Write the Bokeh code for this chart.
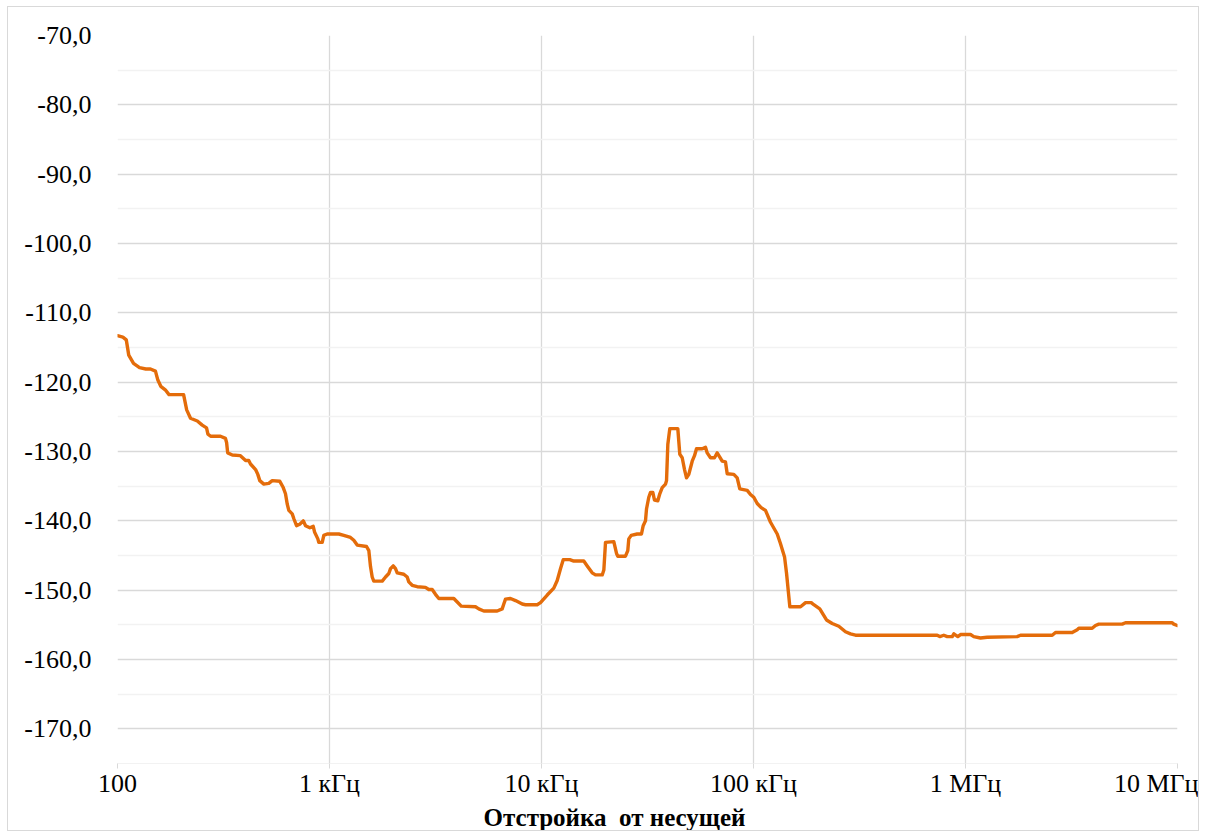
from bokeh.plotting import figure
from bokeh.models import FixedTicker, ColumnDataSource, Title
from bokeh.embed import file_html
from bokeh.resources import INLINE

# Frequency offset from carrier, Hz
freq_hz = [
    100, 106, 110, 113, 119, 127, 136, 143, 151, 155, 160, 168, 175, 205, 212, 221, 238, 251, 263, 267,
    275, 306, 323, 327, 331, 348, 380, 402, 416, 424, 448, 459, 469, 490, 517, 537, 583, 605, 620, 632,
    643, 667, 679, 699, 724, 752, 771, 808, 838, 850, 881, 890, 924, 940, 975, 1106, 1168, 1256, 1302, 1351,
    1495, 1533, 1561, 1590, 1618, 1773, 1838, 1905, 1940, 1998, 2048, 2086, 2241, 2325, 2366, 2455, 2593, 2836, 2940, 3051,
    3162, 3278, 3858, 4004, 4181, 4883, 5060, 5343, 6180, 6525, 6640, 6764, 7141, 7540, 8110, 8405, 9543, 9892, 10640, 11430,
    11860, 12290, 12660, 13600, 14200, 15830, 16430, 17340, 17970, 19340, 19680, 20040, 21930, 22590, 22910, 24900, 25530, 25810, 26490, 28270,
    29620, 30180, 30940, 31280, 32070, 32680, 33500, 34120, 35370, 36140, 37100, 38460, 38880, 39430, 40290, 43950, 44920, 46100, 47270, 48310,
    49530, 51390, 52690, 53840, 57280, 59370, 60480, 62690, 65460, 67420, 69340, 71180, 73770, 75150, 80740, 83760, 86170, 93390, 96790, 100300,
    104100, 108700, 113900, 120300, 129400, 134100, 140100, 143200, 148400, 166700, 176000, 187200, 192500, 205400, 221000, 235100, 252600, 271600, 286800, 302800,
    735400, 756500, 790000, 819900, 865900, 881000, 919800, 947100, 1056000, 1094000, 1177000, 1266000, 1753000, 1817000, 2565000, 2658000, 3187000, 3365000, 3422000, 3959000,
    4104000, 4254000, 5486000, 5685000, 9441000, 9605000, 9968000,
]

# Phase noise level, dBc/Hz
level_db = [
    -113.3, -113.5, -113.9, -116.1, -117.3, -117.9, -118.1, -118.1, -118.4, -119.7, -120.6, -121.1, -121.8, -121.8, -124.0, -125.2, -125.6, -126.2, -126.6, -127.5,
    -127.8, -127.8, -128.1, -128.7, -130.2, -130.5, -130.6, -131.3, -131.3, -131.8, -132.6, -133.3, -134.2, -134.7, -134.6, -134.2, -134.3, -135.2, -136.1, -137.6,
    -138.5, -139.0, -139.7, -140.7, -140.5, -140.0, -140.7, -141.0, -140.8, -141.6, -142.6, -143.1, -143.1, -142.1, -141.9, -141.9, -142.1, -142.4, -142.8, -143.5,
    -143.7, -144.3, -146.6, -148.1, -148.7, -148.7, -148.1, -147.6, -146.9, -146.5, -146.9, -147.5, -147.7, -148.1, -148.8, -149.3, -149.5, -149.6, -149.9, -149.9,
    -150.6, -151.2, -151.2, -151.7, -152.3, -152.4, -152.7, -153.0, -153.0, -152.7, -152.0, -151.3, -151.2, -151.5, -152.0, -152.1, -152.1, -151.8, -150.7, -149.7,
    -148.6, -146.9, -145.6, -145.6, -145.8, -145.8, -146.5, -147.5, -147.8, -147.8, -147.1, -143.1, -143.0, -144.7, -145.1, -145.1, -144.3, -142.6, -142.1, -141.9,
    -141.9, -140.7, -140.0, -138.3, -136.6, -135.9, -135.9, -137.0, -137.1, -136.1, -135.2, -134.7, -134.2, -129.0, -126.7, -126.7, -130.4, -130.9, -132.6, -133.8,
    -133.3, -131.4, -130.6, -129.6, -129.6, -129.4, -130.2, -130.9, -130.9, -130.2, -130.8, -131.4, -131.5, -133.2, -133.3, -133.8, -135.4, -135.6, -136.2, -136.6,
    -137.5, -138.1, -138.5, -140.2, -141.9, -143.3, -145.2, -147.6, -152.4, -152.4, -151.8, -151.8, -152.1, -152.7, -154.3, -154.8, -155.2, -156.0, -156.3, -156.5,
    -156.5, -156.7, -156.5, -156.7, -156.7, -156.3, -156.7, -156.4, -156.4, -156.7, -156.9, -156.8, -156.7, -156.5, -156.5, -156.1, -156.1, -155.7, -155.5, -155.5,
    -155.1, -154.9, -154.9, -154.7, -154.7, -154.9, -155.1,
]

x_ticks = [100, 1000, 10000, 100000, 1000000, 10000000]
x_tick_labels = ["100", "1 кГц", "10 кГц", "100 кГц", "1 МГц", "10 МГц"]
y_ticks = [-170, -160, -150, -140, -130, -120, -110, -100, -90, -80, -70]
y_minor_ticks = [-175, -165, -155, -145, -135, -125, -115, -105, -95, -85, -75]
y_tick_labels = ["-170,0", "-160,0", "-150,0", "-140,0", "-130,0", "-120,0", "-110,0", "-100,0", "-90,0", "-80,0", "-70,0"]
x_title = "Отстройка\u00a0 от несущей"

FONT = "Liberation Serif"

p = figure(
    width=1192, height=825,
    x_axis_type="log", x_range=(100, 10000000), y_range=(-175, -70),
    output_backend="svg", toolbar_location=None,
    min_border_left=109, min_border_right=23, min_border_top=28, min_border_bottom=64,
)
p.styles = {"border": "1px solid #D9D9D9", "margin-left": "7px", "margin-top": "6px"}
p.outline_line_color = None
p.background_fill_color = "white"
p.border_fill_color = "white"

src = ColumnDataSource(dict(f=freq_hz, v=level_db))
p.line("f", "v", source=src, line_color="#E46C0A", line_width=3.4, line_join="round", line_cap="round")

# X axis
xa = p.xaxis[0]
xa.ticker = FixedTicker(ticks=x_ticks, minor_ticks=[])
xa.major_label_overrides = {t: l for t, l in zip(x_ticks, x_tick_labels)}
xa.axis_line_color = "#F2F2F2"
xa.major_tick_line_color = "#D9D9D9"
xa.major_tick_out = 5
xa.major_tick_in = 0
xa.minor_tick_line_color = None
xa.major_label_text_font = FONT
xa.major_label_text_font_size = "26px"
xa.major_label_text_color = "black"
xa.major_label_standoff = 0

# X axis title below the tick labels
p.add_layout(Title(
    text=x_title, align="left", offset=366, standoff=3,
    text_font=FONT, text_font_size="25px", text_font_style="bold", text_color="black",
), "below")

# Y axis
ya = p.yaxis[0]
ya.ticker = FixedTicker(ticks=y_ticks, minor_ticks=y_minor_ticks)
ya.major_label_overrides = {t: l for t, l in zip(y_ticks, y_tick_labels)}
ya.axis_line_color = None
ya.major_tick_line_color = None
ya.minor_tick_line_color = None
ya.major_tick_out = 0
ya.major_tick_in = 0
ya.major_label_text_font = FONT
ya.major_label_text_font_size = "26px"
ya.major_label_text_color = "black"
ya.major_label_standoff = 22

# Grids
p.xgrid.ticker = FixedTicker(ticks=x_ticks, minor_ticks=[])
p.xgrid.grid_line_color = "#D9D9D9"
p.xgrid.grid_line_width = 1.3
p.ygrid.ticker = FixedTicker(ticks=y_ticks, minor_ticks=y_minor_ticks)
p.ygrid.grid_line_color = "#D9D9D9"
p.ygrid.grid_line_width = 1.3
p.ygrid.minor_grid_line_color = "#F2F2F2"
p.ygrid.minor_grid_line_width = 1.3

open("out.html", "w").write(file_html(p, INLINE))
